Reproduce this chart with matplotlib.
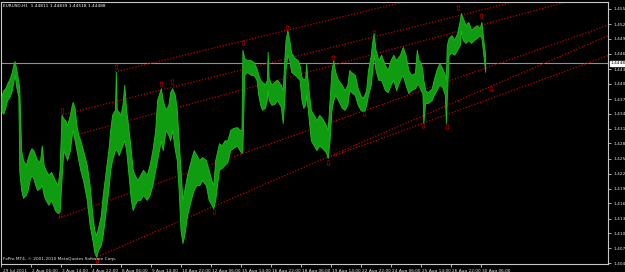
import matplotlib
matplotlib.use("Agg")
import matplotlib.pyplot as plt
import matplotlib.transforms as mtransforms
import numpy as np

# EURUSD H1, sampled bar index -> high / low
bars = [0, 2, 4, 6, 9, 11, 13, 14, 16, 18, 19, 21, 23, 26, 28, 30, 32, 34, 36, 38,
        41, 43, 45, 47, 50, 53, 57, 60, 62, 64, 66, 68, 70, 73, 75, 76, 78, 80, 82, 84,
        87, 91, 94, 97, 99, 101, 103, 106, 108, 110, 112, 114, 116, 118, 121, 122, 123, 125, 127, 129,
        131, 133, 135, 138, 140, 142, 145, 148, 151, 155, 158, 161, 164, 166, 170, 172, 175, 178, 180, 182,
        185, 187, 189, 191, 193, 195, 198, 202, 205, 208, 211, 214, 218, 221, 224, 226, 228, 232, 235, 238,
        241, 244, 247, 251, 254, 256, 257, 259, 262, 266, 269, 272, 274, 276, 278, 281, 283, 284, 285, 288,
        291, 294, 298, 300, 302, 303, 305, 307, 309, 313, 316, 318, 320, 322, 324, 325, 327, 330, 333, 336,
        339, 342, 346, 348, 350, 352, 354, 356, 359, 363, 366, 369, 371, 373, 377, 380, 383, 385, 387, 389,
        391, 394, 396, 397, 399, 402, 405, 409, 412, 415, 418, 421, 425, 428, 431, 434, 437, 441, 443, 445,
        447, 449, 450, 452, 455, 459, 461, 464, 467, 470, 473, 474, 475, 477, 480, 483, 486, 489, 490, 492,
        495, 498, 501, 504, 507, 510, 512, 514, 516]
highs = [1.4382, 1.4394, 1.4398, 1.4407, 1.4419, 1.4431, 1.4449, 1.4453, 1.4435, 1.4411, 1.4398, 1.4272, 1.4252, 1.4242, 1.4256, 1.4268, 1.4276, 1.4272, 1.4262, 1.4252,
         1.4248, 1.4282, 1.4242, 1.4232, 1.4222, 1.4228, 1.4211, 1.4201, 1.4232, 1.4344, 1.4337, 1.4333, 1.4323, 1.4344, 1.4364, 1.4370, 1.4358, 1.4323, 1.4303, 1.4292,
         1.4272, 1.4242, 1.4201, 1.4140, 1.4110, 1.4099, 1.4114, 1.4140, 1.4181, 1.4211, 1.4242, 1.4272, 1.4313, 1.4344, 1.4354, 1.4431, 1.4354, 1.4350, 1.4344, 1.4364,
         1.4405, 1.4354, 1.4323, 1.4272, 1.4232, 1.4222, 1.4211, 1.4222, 1.4232, 1.4222, 1.4242, 1.4272, 1.4313, 1.4374, 1.4398, 1.4374, 1.4354, 1.4364, 1.4390, 1.4398,
         1.4384, 1.4354, 1.4292, 1.4232, 1.4171, 1.4191, 1.4222, 1.4252, 1.4272, 1.4262, 1.4252, 1.4258, 1.4252, 1.4232, 1.4211, 1.4201, 1.4252, 1.4286, 1.4282, 1.4292,
         1.4292, 1.4313, 1.4317, 1.4319, 1.4313, 1.4313, 1.4476, 1.4459, 1.4455, 1.4455, 1.4451, 1.4439, 1.4425, 1.4415, 1.4411, 1.4405, 1.4415, 1.4472, 1.4419, 1.4405,
         1.4411, 1.4415, 1.4405, 1.4394, 1.4466, 1.4496, 1.4516, 1.4496, 1.4470, 1.4459, 1.4455, 1.4445, 1.4421, 1.4415, 1.4419, 1.4449, 1.4405, 1.4354, 1.4344, 1.4333,
         1.4344, 1.4337, 1.4323, 1.4313, 1.4374, 1.4435, 1.4455, 1.4431, 1.4415, 1.4405, 1.4394, 1.4405, 1.4435, 1.4431, 1.4425, 1.4398, 1.4384, 1.4378, 1.4384, 1.4394,
         1.4435, 1.4466, 1.4500, 1.4510, 1.4476, 1.4455, 1.4466, 1.4445, 1.4435, 1.4455, 1.4466, 1.4455, 1.4466, 1.4482, 1.4466, 1.4435, 1.4425, 1.4429, 1.4476, 1.4455,
         1.4451, 1.4435, 1.4415, 1.4394, 1.4390, 1.4398, 1.4415, 1.4435, 1.4449, 1.4439, 1.4425, 1.4415, 1.4486, 1.4500, 1.4506, 1.4496, 1.4510, 1.4537, 1.4551, 1.4541,
         1.4526, 1.4533, 1.4516, 1.4522, 1.4526, 1.4520, 1.4533, 1.4496, 1.4466]
lows = [1.4350, 1.4346, 1.4358, 1.4374, 1.4382, 1.4394, 1.4415, 1.4425, 1.4398, 1.4382, 1.4228, 1.4191, 1.4175, 1.4181, 1.4191, 1.4211, 1.4222, 1.4215, 1.4201, 1.4191,
        1.4195, 1.4201, 1.4181, 1.4171, 1.4161, 1.4171, 1.4150, 1.4144, 1.4146, 1.4211, 1.4272, 1.4262, 1.4252, 1.4272, 1.4303, 1.4313, 1.4292, 1.4272, 1.4252, 1.4232,
        1.4211, 1.4171, 1.4120, 1.4089, 1.4065, 1.4055, 1.4069, 1.4079, 1.4099, 1.4130, 1.4161, 1.4191, 1.4232, 1.4252, 1.4272, 1.4272, 1.4272, 1.4262, 1.4272, 1.4282,
        1.4292, 1.4272, 1.4232, 1.4171, 1.4150, 1.4161, 1.4171, 1.4171, 1.4181, 1.4171, 1.4181, 1.4201, 1.4232, 1.4252, 1.4292, 1.4272, 1.4313, 1.4303, 1.4292, 1.4313,
        1.4272, 1.4252, 1.4191, 1.4110, 1.4083, 1.4099, 1.4140, 1.4171, 1.4191, 1.4201, 1.4201, 1.4211, 1.4201, 1.4171, 1.4161, 1.4154, 1.4171, 1.4232, 1.4236, 1.4242,
        1.4248, 1.4272, 1.4276, 1.4282, 1.4272, 1.4266, 1.4272, 1.4425, 1.4431, 1.4425, 1.4425, 1.4415, 1.4384, 1.4364, 1.4354, 1.4358, 1.4374, 1.4394, 1.4374, 1.4364,
        1.4366, 1.4374, 1.4360, 1.4327, 1.4384, 1.4435, 1.4466, 1.4455, 1.4431, 1.4425, 1.4419, 1.4415, 1.4374, 1.4358, 1.4364, 1.4384, 1.4350, 1.4292, 1.4282, 1.4272,
        1.4282, 1.4276, 1.4268, 1.4256, 1.4292, 1.4354, 1.4374, 1.4384, 1.4374, 1.4358, 1.4354, 1.4364, 1.4394, 1.4390, 1.4384, 1.4364, 1.4354, 1.4352, 1.4352, 1.4364,
        1.4384, 1.4405, 1.4445, 1.4466, 1.4435, 1.4415, 1.4415, 1.4394, 1.4390, 1.4405, 1.4415, 1.4394, 1.4415, 1.4425, 1.4405, 1.4388, 1.4394, 1.4398, 1.4405, 1.4405,
        1.4394, 1.4388, 1.4327, 1.4368, 1.4368, 1.4374, 1.4384, 1.4394, 1.4405, 1.4401, 1.4384, 1.4327, 1.4374, 1.4466, 1.4470, 1.4466, 1.4476, 1.4486, 1.4516, 1.4496,
        1.4490, 1.4496, 1.4490, 1.4496, 1.4500, 1.4506, 1.4500, 1.4466, 1.4431]

# fractal arrows (bar, price)
up_bars = [65, 122, 170, 182, 258, 305, 354, 397, 487, 512]
up_prices = [1.4350, 1.4441, 1.4405, 1.4409, 1.4488, 1.4520, 1.4459, 1.4510, 1.4561, 1.4543]
dn_bars = [63, 102, 227, 348, 387, 450, 475, 522]
dn_prices = [1.4138, 1.4045, 1.4144, 1.4244, 1.4344, 1.4319, 1.4317, 1.4394]

# trend lines: two anchor points each, drawn as rays to the right
line_x1 = [121, 65, 70, 61, 102, 348]
line_y1 = [1.4431, 1.4344, 1.4298, 1.4134, 1.4055, 1.4256]
line_x2 = [305, 426, 426, 596, 348, 450]
line_y2 = [1.4516, 1.4516, 1.4482, 1.4492, 1.4258, 1.4327]

price_ticks = [1.45590, 1.45280, 1.44980, 1.44680, 1.44370, 1.44070, 1.43760, 1.43460, 1.43160,
               1.42860, 1.42550, 1.42240, 1.41940, 1.41640, 1.41330, 1.41030, 1.40725, 1.40420]
time_ticks = [0, 31, 63, 95, 127, 159, 191, 223, 255, 287, 319, 351, 383, 415, 447, 479, 511]
time_labels = ["29 Jul 2011", "2 Aug 06:00", "3 Aug 14:00", "4 Aug 22:00", "8 Aug 06:00",
               "9 Aug 14:00", "10 Aug 22:00", "12 Aug 06:00", "15 Aug 14:00", "16 Aug 22:00",
               "18 Aug 06:00", "19 Aug 14:00", "22 Aug 22:00", "24 Aug 06:00", "25 Aug 14:00",
               "26 Aug 22:00", "30 Aug 06:00"]
last_price = 1.44488

W, H = 625, 272
fig = plt.figure(figsize=(W / 100, H / 100), dpi=100, facecolor="black")
ax = fig.add_axes([1 / W, 8 / H, 607 / W, 262 / H], facecolor="black")
x_max = 647
ax.set_xlim(-0.5, x_max)
ax.set_ylim(1.40406, 1.45732)

# price band
ax.fill_between(bars, lows, highs, color="#109c10", edgecolor="#1fbf1f", lw=0.6, zorder=3)

# trend lines
for x1, y1, x2, y2 in zip(line_x1, line_y1, line_x2, line_y2):
    k = (y2 - y1) / (x2 - x1)
    ax.plot([x1, x_max], [y1, y1 + k * (x_max - x1)], color="#c00000",
            lw=0.9, ls=(0, (1, 1.4)), zorder=2)

ax.axhline(last_price, color="#909090", lw=0.8, zorder=1)

for b, p in zip(up_bars, up_prices):
    ax.text(b, p, "\u21e7", color="#d00000", fontsize=6, ha="center", va="center", zorder=4)
for b, p in zip(dn_bars, dn_prices):
    ax.text(b, p, "\u21e9", color="#d00000", fontsize=6, ha="center", va="center", zorder=4)

# axes look
for s in ax.spines.values():
    s.set_color("#c8c8c8")
    s.set_linewidth(0.8)

ax.yaxis.tick_right()
ax.set_yticks(price_ticks)
ax.set_yticklabels([f"{p:.5f}" for p in price_ticks])
ax.set_xticks(time_ticks)
ax.set_xticklabels(time_labels)
ax.tick_params(colors="#c8c8c8", labelcolor="#e6e6e6", labelsize=3.1,
               length=2.2, width=0.6, pad=1.5)
off = mtransforms.ScaledTranslation(1.5 / 100, 0, fig.dpi_scale_trans)
for lab in ax.get_xticklabels():
    lab.set_horizontalalignment("left")
    lab.set_transform(lab.get_transform() + off)

# current price label
tr = mtransforms.blended_transform_factory(ax.transAxes, ax.transData)
ax.text(1.004, last_price, f"{last_price:.5f}", transform=tr, fontsize=3.1,
        color="black", va="center", ha="left", clip_on=False,
        bbox=dict(boxstyle="square,pad=0.15", fc="white", ec="white"))

fig.text(3 / W, 1 - 6 / H, "EURUSD,H1  1.44811 1.44839 1.44518 1.44488",
         color="white", fontsize=3.1, va="center", ha="left")
fig.text(3 / W, 1 - 259 / H, "FxPro MT4, \u00a9 2001-2010 MetaQuotes Software Corp.",
         color="#e6e6e6", fontsize=3.1, va="center", ha="left")

fig.savefig("out.png", dpi=100, facecolor="black")
